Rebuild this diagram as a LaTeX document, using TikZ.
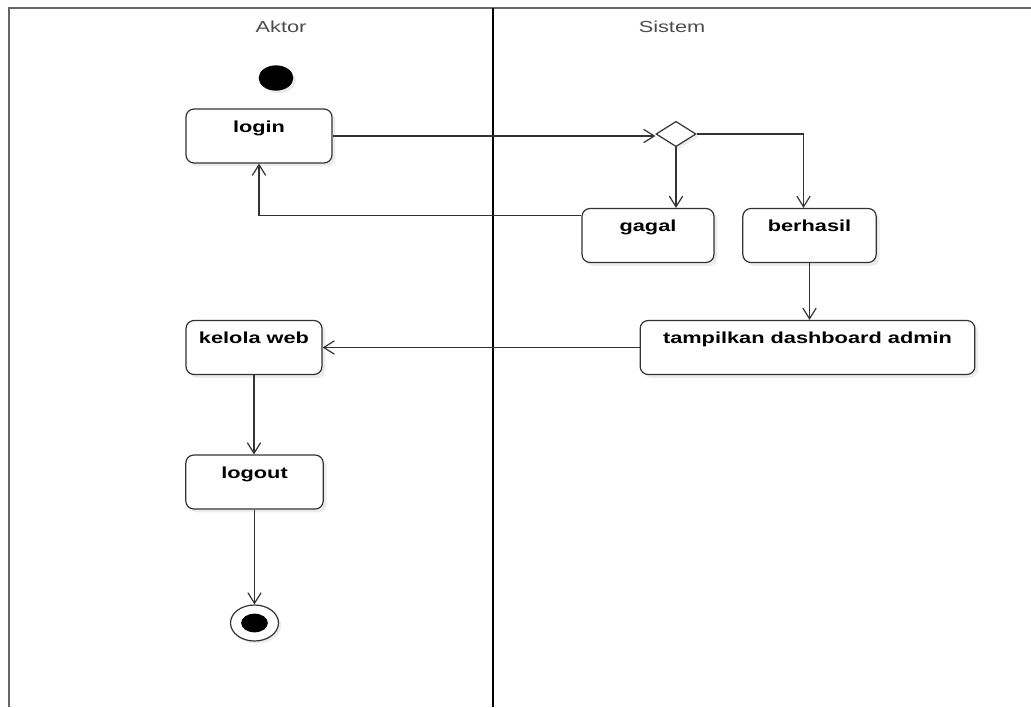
\documentclass[tikz,border=0pt]{standalone}
\usepackage{fontspec}
\usepackage{graphicx}
\setmainfont{Liberation Sans}
\usetikzlibrary{arrows.meta,shapes.geometric,shadows}
\newcommand{\wide}[1]{\scalebox{1.36}[1]{#1}}
\begin{document}
\begin{tikzpicture}[x=0.75pt,y=-0.75pt,line width=0.9pt,every node/.style={font=\fontsize{12}{14}\selectfont},
  act/.style={draw=black!80,fill=white,rounded corners=6pt,font=\fontsize{12}{14}\selectfont\bfseries,inner xsep=0pt,inner ysep=0pt,text height=17.5pt,text depth=23pt,drop shadow={shadow xshift=2.5pt,shadow yshift=-2.5pt,opacity=0.15}},
  flow/.style={draw=black!80,-{Straight Barb[length=8pt,width=10pt]}}]
\useasboundingbox (0,0) rectangle (1031,707);
\draw[black!60,line width=1.5pt] (9,707) -- (9,8) -- (1031,8);
\draw[line width=2.2pt] (493,8) -- (493,707);
\node[text=black!70] (aktor) at (281,27) {\wide{Aktor}};
\node[text=black!70] (sistem) at (672,27) {\wide{Sistem}};
\node[ellipse,fill,minimum width=26pt,minimum height=19pt,inner sep=0pt,drop shadow={shadow xshift=2pt,shadow yshift=-2pt,opacity=0.15}] (start) at (276,78) {};
\node[act,minimum width=109.5pt] (login) at (259,136) {\wide{login}};
\node[diamond,draw=black!80,fill=white,minimum width=30pt,minimum height=19pt,inner sep=0pt,drop shadow={shadow xshift=2pt,shadow yshift=-2pt,opacity=0.15}] (dec) at (676,134) {};
\node[act,minimum width=99pt] (gagal) at (648,235.5) {\wide{gagal}};
\node[act,minimum width=100pt] (berhasil) at (809.5,235.5) {\wide{berhasil}};
\node[act,minimum width=251pt] (tampil) at (807.5,347.5) {\wide{tampilkan dashboard admin}};
\node[act,minimum width=102pt] (kelola) at (254,347.5) {\wide{kelola web}};
\node[act,minimum width=103pt] (logout) at (254.5,482) {\wide{logout}};
\node[ellipse,draw=black!80,fill=white,minimum width=36pt,minimum height=27pt,inner sep=0pt,drop shadow={shadow xshift=2pt,shadow yshift=-2pt,opacity=0.15}] (end) at (254.5,623) {};
\node[ellipse,fill,minimum width=20pt,minimum height=14pt,inner sep=0pt] (endin) at (end.center) {};
\draw[flow] (login.east) -- (login.east -| dec.west);
\draw[flow] (dec.south) -- (dec.south |- gagal.north);
\draw[flow] (dec.east) -| ([xshift=-4.5pt]berhasil.north);
\draw[flow] ([yshift=15pt]gagal.west) -| (login.south);
\draw[flow] (berhasil.south) -- (berhasil.south |- tampil.north);
\draw[flow] (tampil.west) -- (kelola.east);
\draw[flow] (kelola.south) -- (kelola.south |- logout.north);
\draw[flow] (logout.south) -- (end.north);
\end{tikzpicture}
\end{document}
